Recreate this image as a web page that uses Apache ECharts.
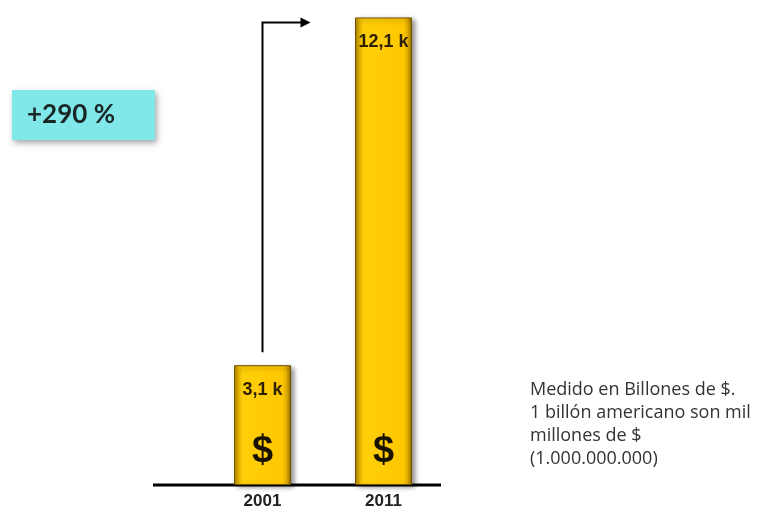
<!DOCTYPE html>
<html>
<head>
<meta charset="utf-8">
<script src="https://cdn.jsdelivr.net/npm/echarts@6/dist/echarts.min.js"></script>
<style>
  html, body { margin: 0; padding: 0; background: #ffffff; }
  #chart { width: 761px; height: 514px; }
</style>
</head>
<body>
<div id="chart"></div>
<script>
// Years and values (billions of dollars)
const years = ['2001', '2011'];
const values = [3.1, 12.1];
const valueLabels = ['3,1 k', '12,1 k'];
const growthText = '+290 %';
const noteLines = [
  'Medido en Billones de $.',
  '1 billón americano son mil',
  'millones de $',
  '(1.000.000.000)'
];

const chart = echarts.init(document.getElementById('chart'));

const barFill = new echarts.graphic.LinearGradient(0, 0, 1, 0, [
  { offset: 0, color: '#a98000' },
  { offset: 0.09, color: '#f2c200' },
  { offset: 0.15, color: '#ffcf0a' },
  { offset: 0.85, color: '#ffc800' },
  { offset: 0.92, color: '#e0ad00' },
  { offset: 1, color: '#8f6c00' }
]);

chart.setOption({
  animation: false,
  grid: { left: 202, right: 317, top: 2, bottom: 29 },
  xAxis: {
    type: 'category',
    data: years,
    axisLine: { show: false },
    axisTick: { show: false },
    axisLabel: {
      margin: 8,
      fontFamily: 'Liberation Sans',
      fontWeight: 'bold',
      fontSize: 17,
      color: '#222222'
    }
  },
  yAxis: {
    type: 'value',
    min: 0,
    max: 12.5,
    show: false,
    splitLine: { show: false }
  },
  series: [
    {
      type: 'bar',
      data: values,
      barWidth: 57,
      itemStyle: {
        color: barFill,
        borderColor: '#6e5400',
        borderWidth: 1,
        shadowBlur: 5,
        shadowColor: 'rgba(0,0,0,0.45)',
        shadowOffsetX: 3,
        shadowOffsetY: 2
      },
      label: {
        show: true,
        position: 'insideTop',
        distance: 16,
        formatter: p => valueLabels[p.dataIndex],
        fontFamily: 'Liberation Sans',
        fontWeight: 'bold',
        fontSize: 18,
        color: '#2e2100'
      },
      z: 2
    },
    {
      // dollar sign near the foot of each bar
      type: 'bar',
      data: values,
      barWidth: 57,
      barGap: '-100%',
      itemStyle: { color: 'rgba(0,0,0,0)' },
      label: {
        show: true,
        position: 'insideBottom',
        distance: 14,
        formatter: '$',
        fontFamily: 'Liberation Sans',
        fontWeight: 'bold',
        fontSize: 38,
        color: '#1a1200'
      },
      z: 3
    }
  ]
});

// Growth arrow from the 2001 bar toward the 2011 bar, plus baseline and notes
const pLow = chart.convertToPixel({ seriesIndex: 0 }, [years[0], values[0]]);
const pHigh = chart.convertToPixel({ seriesIndex: 0 }, [years[1], values[1]]);
const pBase = chart.convertToPixel({ seriesIndex: 0 }, [years[0], 0]);
const arrowX = pLow[0];
const arrowBottom = pLow[1] - 13;
const arrowTop = pHigh[1] + 5;
const arrowEnd = arrowX + 48;

chart.setOption({
  graphic: [
    {
      type: 'line',
      shape: { x1: 153, y1: pBase[1], x2: 441, y2: pBase[1] },
      style: { stroke: '#000000', lineWidth: 3 },
      z: 1
    },
    {
      type: 'polyline',
      shape: { points: [[arrowX, arrowBottom], [arrowX, arrowTop], [arrowEnd - 8, arrowTop]] },
      style: { stroke: '#000000', lineWidth: 2, fill: null },
      z: 5
    },
    {
      type: 'polygon',
      shape: { points: [[arrowEnd - 10, arrowTop - 5], [arrowEnd, arrowTop], [arrowEnd - 10, arrowTop + 5]] },
      style: { fill: '#000000' },
      z: 5
    },
    {
      type: 'rect',
      shape: { x: 12, y: 90, width: 143, height: 50 },
      style: {
        fill: '#80e8e8',
        shadowBlur: 6,
        shadowColor: 'rgba(0,0,0,0.35)',
        shadowOffsetX: 2,
        shadowOffsetY: 3
      },
      z: 5
    },
    {
      type: 'text',
      x: 27,
      y: 115,
      style: {
        text: growthText,
        fontFamily: 'Lato',
        fontWeight: 'bold',
        fontSize: 26,
        fill: '#1b2727',
        verticalAlign: 'middle'
      },
      z: 6
    },
    {
      type: 'text',
      x: 530,
      y: 378,
      style: {
        text: noteLines.join('\n'),
        fontFamily: 'Open Sans',
        fontSize: 18,
        lineHeight: 23,
        fill: '#333333'
      },
      z: 6
    }
  ]
});
</script>
</body>
</html>
